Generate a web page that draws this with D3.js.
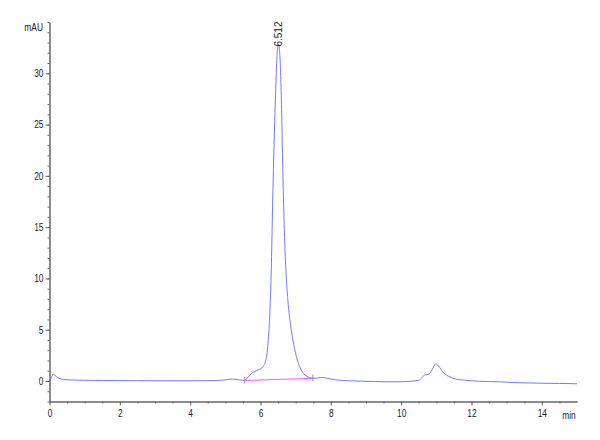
<!DOCTYPE html>
<html>
<head>
<meta charset="utf-8">
<script src="https://cdn.jsdelivr.net/npm/d3@7/dist/d3.min.js"></script>
<style>
  html, body { margin: 0; padding: 0; background: #fff; }
  svg { display: block; }
  text { font-family: "Liberation Sans", Arial, sans-serif; }
</style>
</head>
<body>
<svg id="chart" width="600" height="440"></svg>
<script>
// ---- data ----
const times = [0.00,0.05,0.10,0.15,0.25,0.40,0.60,1.0,1.5,2.0,2.5,3.0,3.5,4.0,4.5,4.8,5.0,5.2,5.4,5.55,
  5.60,5.69,5.80,5.95,6.07,6.15,6.19,6.22,6.25,6.30,6.36,6.42,6.47,6.512,6.55,6.60,6.64,6.70,6.78,6.85,
  6.92,7.02,7.10,7.16,7.23,7.30,7.40,7.49,7.60,7.73,7.85,8.0,8.25,8.5,9.0,9.5,10.0,10.3,10.52,10.60,
  10.66,10.79,10.88,10.98,11.09,11.18,11.25,11.33,11.45,11.57,11.8,12.23,12.8,13.36,14.0,14.5,14.88,15.0];
const values = [0.0,0.3,0.68,0.55,0.3,0.15,0.1,0.07,0.05,0.04,0.03,0.02,0.02,0.02,0.03,0.05,0.12,0.18,0.12,0.05,
  0.2,0.58,0.85,1.1,1.4,2.0,2.8,4.0,5.5,10.0,19.6,27.0,31.8,32.8,31.8,26.5,19.6,12.5,7.8,5.6,
  4.0,2.4,1.5,1.07,0.7,0.49,0.33,0.26,0.28,0.34,0.3,0.2,0.07,0.02,-0.03,-0.07,-0.07,-0.02,0.1,0.35,
  0.58,0.65,1.1,1.66,1.34,0.9,0.65,0.49,0.3,0.17,0.08,-0.03,-0.08,-0.17,-0.22,-0.24,-0.26,-0.27];
const baseTimes = [5.55, 7.49];
const baseValues = [0.05, 0.26];
const peakTimes = [6.512];
const peakValues = [32.8];
const peakLabels = ["6.512"];
const xTickLabels = [0,2,4,6,8,10,12,14];
const yTickLabels = [0,5,10,15,20,25,30];
const xDomain = [0, 15];
const yDomain = [-2, 35];

// ---- chart ----
const svg = d3.select("#chart");
const x = d3.scaleLinear().domain(xDomain).range([49.5, 577]);
const y = d3.scaleLinear().domain(yDomain).range([401.5, 22]);
const axisColor = "#666";
const sx = 0.8; // condensed look of the axis text

// minor ticks
const gyMinor = svg.append("g").attr("transform", "translate(49.5,0)")
  .call(d3.axisLeft(y).tickValues(d3.range(-2, 36, 1)).tickSize(2).tickFormat("").tickSizeOuter(0));
const gxMinor = svg.append("g").attr("transform", "translate(0,401.5)")
  .call(d3.axisBottom(x).tickValues(d3.range(0, 15, 0.5)).tickSize(2).tickFormat("").tickSizeOuter(0));
// major ticks
const gy = svg.append("g").attr("transform", "translate(49.5,0)")
  .call(d3.axisLeft(y).tickValues(yTickLabels).tickSize(4).tickPadding(2).tickSizeOuter(0).tickFormat(d3.format("d")));
const gx = svg.append("g").attr("transform", "translate(0,401.5)")
  .call(d3.axisBottom(x).tickValues(xTickLabels).tickSize(4).tickPadding(4).tickSizeOuter(0).tickFormat(d3.format("d")));

[gyMinor, gxMinor, gy, gx].forEach(g => {
  g.selectAll("path.domain").attr("stroke", axisColor);
  g.selectAll("line").attr("stroke", axisColor);
  g.selectAll("text").attr("fill", "#222").style("font-size", "10.5px");
});
gy.selectAll("text").attr("x", -6 / sx).attr("transform", `scale(${sx},1)`);
gx.selectAll("text").attr("transform", `scale(${sx},1)`);

svg.append("text").attr("transform", `translate(43,31) scale(${sx},1)`).attr("text-anchor", "end")
  .attr("fill", "#222").style("font-size", "10.5px").text("mAU");
svg.append("text").attr("transform", `translate(569,419) scale(${sx},1)`).attr("text-anchor", "middle")
  .attr("fill", "#222").style("font-size", "10.5px").text("min");

// integration baseline
const baseData = baseTimes.map((t, i) => [t, baseValues[i]]);
svg.append("path").datum(baseData)
  .attr("fill", "none").attr("stroke", "#ff55ff").attr("stroke-width", 1)
  .attr("d", d3.line().x(d => x(d[0])).y(d => y(d[1])));
svg.selectAll("line.mark").data(baseData).enter().append("line")
  .attr("class", "mark")
  .attr("x1", d => x(d[0])).attr("x2", d => x(d[0]))
  .attr("y1", d => y(d[1]) - 4).attr("y2", d => y(d[1]) + 3)
  .attr("stroke", "#999").attr("stroke-width", 1);

// signal
const data = times.map((t, i) => [t, values[i]]);
svg.append("path").datum(data)
  .attr("fill", "none").attr("stroke", "#7878ff").attr("stroke-width", 1)
  .attr("d", d3.line().curve(d3.curveMonotoneX).x(d => x(d[0])).y(d => y(d[1])));

// peak labels
peakTimes.forEach((t, i) => {
  const px = x(t) + 3.5, py = y(peakValues[i]) + 2;
  svg.append("text")
    .attr("transform", `translate(${px},${py}) rotate(-90)`)
    .attr("text-anchor", "start").attr("fill", "#222")
    .style("font-size", "10px").text(peakLabels[i]);
});
</script>
</body>
</html>
